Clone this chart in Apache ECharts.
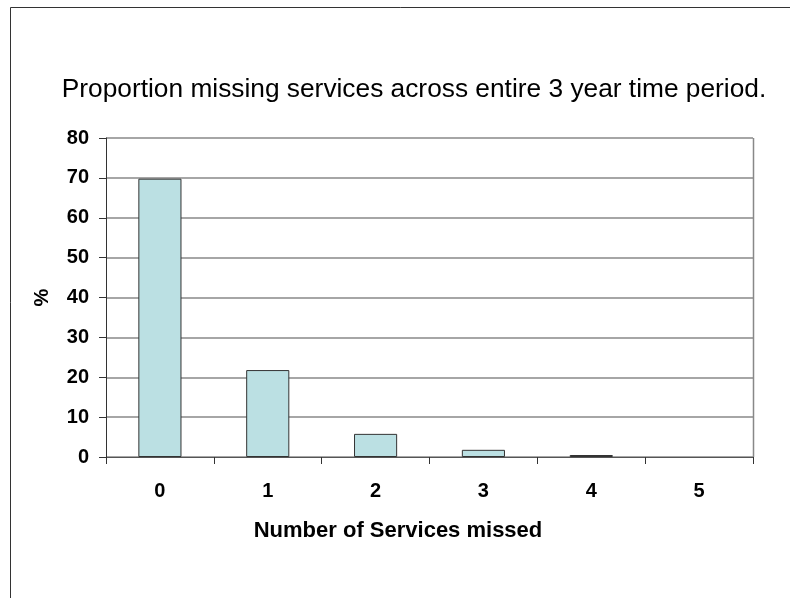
<!DOCTYPE html>
<html><head><meta charset="utf-8">
<script src="https://cdn.jsdelivr.net/npm/echarts@6/dist/echarts.min.js"></script>
<style>html,body{margin:0;padding:0;background:#fff}#c{width:790px;height:598px}</style>
</head><body><div id="c"></div>
<script>
const categories = ['0','1','2','3','4','5'];
const percentMissing = [69.8, 21.8, 5.8, 1.8, 0.5, null];
const yTicks = [0,10,20,30,40,50,60,70,80];
const xAxisTitle = 'Number of Services missed';

const chart = echarts.init(document.getElementById('c'));
chart.setOption({
  animation:false,
  backgroundColor:'#fff',
  title:{text:'Proportion missing services across entire 3 year time period.',left:409,top:72,textAlign:'center',
    textStyle:{fontFamily:'Liberation Sans, Arial',fontWeight:'normal',fontSize:26.3,color:'#000'}},
  graphic:[
    {type:'line',shape:{x1:10.5,y1:7.5,x2:790,y2:7.5},style:{stroke:'#333',lineWidth:1}},
    {type:'line',shape:{x1:10.5,y1:7.5,x2:10.5,y2:598},style:{stroke:'#333',lineWidth:1}},
    {type:'line',shape:{x1:753.5,y1:138,x2:753.5,y2:457},style:{stroke:'#888',lineWidth:1.5}},
    {type:'text',x:398,y:531,style:{text:xAxisTitle,textAlign:'center',textVerticalAlign:'middle',
      font:'bold 22px "Liberation Sans", Arial',fill:'#000'}}
  ],
  grid:{left:106,right:37,top:138,bottom:141},
  xAxis:{type:'category',data:categories,
    axisLine:{lineStyle:{color:'#555',width:1}},
    axisTick:{show:true,alignWithLabel:false,length:7,lineStyle:{color:'#333'}},
    axisLabel:{margin:24,fontFamily:'Liberation Sans, Arial',fontWeight:'bold',fontSize:20,color:'#000'}},
  yAxis:{type:'value',min:0,max:80,interval:10,
    name:'%',nameLocation:'middle',nameGap:54,nameRotate:90,
    nameTextStyle:{fontFamily:'Liberation Sans, Arial',fontWeight:'bold',fontSize:20,color:'#000'},
    axisLine:{show:true,lineStyle:{color:'#333',width:1}},
    axisTick:{show:true,length:7,lineStyle:{color:'#333'}},
    axisLabel:{margin:17,fontFamily:'Liberation Sans, Arial',fontWeight:'bold',fontSize:20,color:'#000',
      formatter:v=>yTicks.includes(v)?String(v):''},
    splitLine:{show:true,lineStyle:{color:'#888',width:1.5}}},
  series:[{type:'bar',data:percentMissing,barWidth:'40%',
    itemStyle:{color:'#bbe0e3',borderColor:'#333',borderWidth:1}}]
});
</script></body></html>
